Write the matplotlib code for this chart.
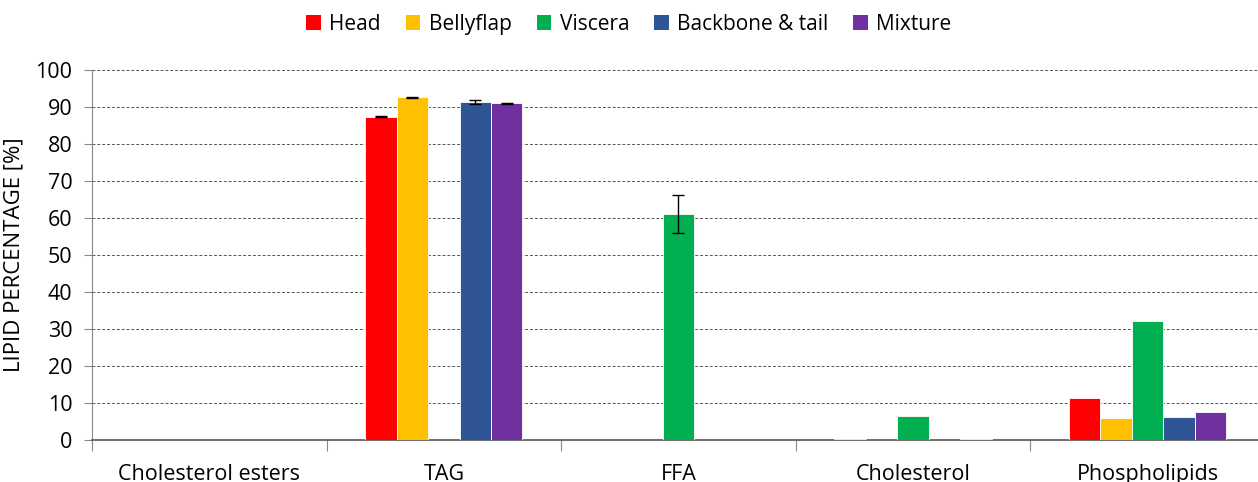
import matplotlib.pyplot as plt
import numpy as np

plt.rcParams['font.family'] = ['Open Sans', 'DejaVu Sans']

categories = ["Cholesterol esters", "TAG", "FFA", "Cholesterol", "Phospholipids"]
series = ["Head", "Bellyflap", "Viscera", "Backbone & tail", "Mixture"]
colors = ["#FF0000", "#FFC000", "#00B050", "#2F5597", "#7030A0"]

head = [0, 87.4, 0, 0.3, 11.3]
bellyflap = [0, 92.6, 0, 0, 6.0]
viscera = [0, 0, 61.0, 6.5, 32.1]
backbone = [0, 91.3, 0, 0, 6.3]
mixture = [0, 91.0, 0, 0.3, 7.7]

head_err = [0, 0.2, 0, 0, 0]
bellyflap_err = [0, 0.2, 0, 0, 0]
viscera_err = [0, 0, 5.1, 0, 0]
backbone_err = [0, 0.5, 0, 0, 0]
mixture_err = [0, 0.2, 0, 0, 0]

values = [head, bellyflap, viscera, backbone, mixture]
errors = [head_err, bellyflap_err, viscera_err, backbone_err, mixture_err]

fig = plt.figure(figsize=(12.58, 4.82), dpi=100)
ax = fig.add_axes([0.0731, 0.0871, 0.9324, 0.7677])

x = np.arange(len(categories))
w = 0.134
for i, (name, vals, errs, c) in enumerate(zip(series, values, errors, colors)):
    pos = x + (i - 2) * w
    edges = ['white' if v > 0 else 'none' for v in vals]
    ax.bar(pos, vals, w, color=c, edgecolor=edges, linewidth=0.6, label=name, zorder=3)
    e = np.array(errs)
    mask = e > 0
    if mask.any():
        ax.errorbar(pos[mask], np.array(vals)[mask], yerr=e[mask], fmt='none',
                    ecolor='black', elinewidth=1, capsize=4, capthick=1, zorder=4)

ax.set_xlim(-0.5, len(categories) - 0.5)
ax.set_ylim(0, 100)
ax.set_yticks(np.arange(0, 101, 10))
ax.yaxis.grid(True, linestyle=(0, (3, 2)), color='#555555', linewidth=0.7, zorder=0)
ax.tick_params(axis='y', labelsize=15.5, length=6, color='#888888', width=0.8, pad=8)

ax.set_xticks(np.arange(-0.5, len(categories), 1))
ax.set_xticklabels([])
ax.tick_params(axis='x', which='major', length=8, color='#888888', width=0.8)
ax.set_xticks(x, minor=True)
ax.set_xticklabels(categories, minor=True, fontsize=15.5)
ax.tick_params(axis='x', which='minor', length=0, pad=17)

for s in ['top', 'right']:
    ax.spines[s].set_visible(False)
ax.spines['left'].set_color('#888888')
ax.spines['bottom'].set_color('#555555')
ax.spines['bottom'].set_linewidth(1.2)

ax.set_ylabel("LIPID PERCENTAGE [%]", fontsize=16, labelpad=8)

fig.legend(loc='upper center', bbox_to_anchor=(0.5, 1.01), ncol=5, frameon=False,
           fontsize=15, handlelength=0.7, handleheight=0.7, handletextpad=0.4,
           columnspacing=1.2)

fig.savefig("out.png", dpi=100)
